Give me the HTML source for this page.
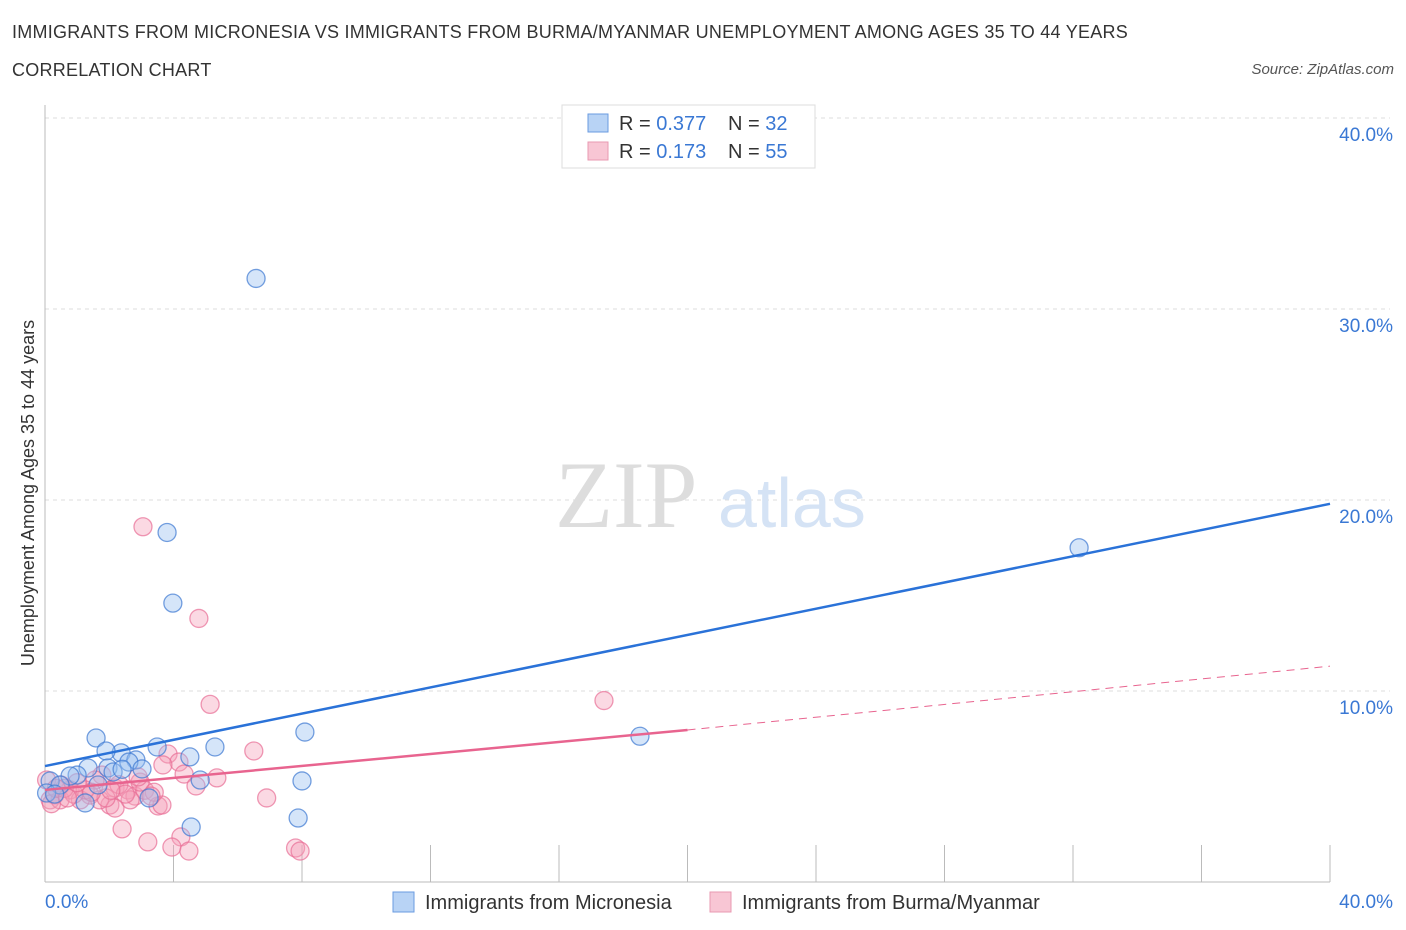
<!DOCTYPE html>
<html><head><meta charset="utf-8"><style>
body{margin:0;background:#fff;font-family:"Liberation Sans",sans-serif;}
#wrap{position:relative;width:1406px;height:930px;overflow:hidden;}
.t{position:absolute;color:#333;font-size:18px;letter-spacing:0.25px;}
</style></head><body>
<div id="wrap">
<div class="t" style="left:12px;top:22px;">IMMIGRANTS FROM MICRONESIA VS IMMIGRANTS FROM BURMA/MYANMAR UNEMPLOYMENT AMONG AGES 35 TO 44 YEARS</div>
<div class="t" style="left:12px;top:60px;">CORRELATION CHART</div>
<div class="t" style="right:12px;top:61px;font-size:15px;letter-spacing:0;font-style:italic;color:#555;">Source: ZipAtlas.com</div>
<svg id="svg" width="1406" height="930" style="position:absolute;left:0;top:0"></svg>
</div>
<script>
const blueX=[6.57,3.80,3.98,32.19,18.52,8.09,1.59,5.29,3.49,2.37,1.90,4.51,2.83,2.61,3.02,1.96,1.34,2.12,1.00,0.78,0.16,0.47,0.05,1.65,3.24,1.25,4.83,8.00,7.88,4.55,0.3,2.4];
const blueY=[31.6,18.3,14.6,17.5,7.63,7.85,7.54,7.07,7.07,6.76,6.86,6.55,6.39,6.28,5.92,5.97,5.97,5.76,5.60,5.55,5.29,5.08,4.66,5.08,4.40,4.14,5.34,5.29,3.35,2.88,4.6,5.9];
const pinkX=[3.05,4.79,5.14,17.4,6.5,3.83,4.17,3.67,4.33,5.35,4.70,6.9,2.4,3.2,4.23,3.95,4.48,7.8,7.94,1.77,2.18,2.58,2.8,3.52,3.64,2.02,2.18,1.4,0.78,0.3,0.16,0.5,1.1,1.56,3.1,2.65,2.96,0.05,1.7,0.47,1.25,0.9,2.3,3.4,0.6,1.9,2.9,0.2,1.45,2.5,3.3,0.35,1.0,2.05,0.7];
const pinkY=[18.6,13.8,9.3,9.5,6.86,6.7,6.28,6.13,5.65,5.45,5.03,4.4,2.78,2.1,2.36,1.83,1.62,1.78,1.62,5.6,4.92,4.82,4.5,3.98,4.03,4.03,3.87,4.55,4.82,4.55,4.3,5.08,4.3,5.34,4.8,4.3,5.23,5.34,4.3,4.3,4.82,4.6,5.1,4.7,4.9,4.4,5.5,4.1,4.7,4.6,4.5,4.9,5.2,4.8,4.4];
const yTicks=[10,20,30,40];
const yTickLabels=["10.0%","20.0%","30.0%","40.0%"];
const blueLine=[6.07,19.8], pinkLine=[4.82,7.96,11.3];
const X=v=>45+v/40*1285, Y=v=>882-v/10*191;
const s=document.getElementById('svg');const NS="http://www.w3.org/2000/svg";
function mk(t,a,n){const e=document.createElementNS(NS,t);for(const k in a)e.setAttribute(k,a[k]);s.appendChild(e);return e;}
yTicks.forEach((v,i)=>{
 const g=mk('line',{x1:45,x2:1390,y1:Y(v),y2:Y(v),stroke:'#ddd','stroke-dasharray':'4,4'},'gridline');
 const t=mk('text',{x:1393,y:Y(v)+23,'text-anchor':'end','font-size':19,fill:'#3a78d4'},'y-tick-label');t.textContent=yTickLabels[i];
});
mk('line',{x1:45,x2:45,y1:105,y2:882,stroke:'#bbb'},'y-axis');
mk('line',{x1:45,x2:1330,y1:882,y2:882,stroke:'#bbb'},'x-axis');
for(let i=0;i<=10;i++){mk('line',{x1:X(i*4),x2:X(i*4),y1:845,y2:882,stroke:'#bbb'},'x-tick');}
let w=mk('text',{x:555,y:527,'font-size':95,fill:'#ddd','font-family':'Liberation Serif'},'watermark-zip');w.textContent='ZIP';
w=mk('text',{x:718,y:527,'font-size':70,fill:'#d5e3f5'},'watermark-atlas');w.textContent='atlas';
pinkX.forEach((x,i)=>{mk('circle',{cx:X(x),cy:Y(pinkY[i]),r:9,fill:'rgba(246,160,185,0.4)',stroke:'rgba(232,110,150,0.7)','stroke-width':1.3},'pink-point');});
blueX.forEach((x,i)=>{mk('circle',{cx:X(x),cy:Y(blueY[i]),r:9,fill:'rgba(150,190,240,0.4)',stroke:'rgba(60,120,210,0.7)','stroke-width':1.3},'blue-point');});
mk('line',{x1:X(0),y1:Y(blueLine[0]),x2:X(40),y2:Y(blueLine[1]),stroke:'#2a72d8','stroke-width':2.5},'blue-trend-line');
mk('line',{x1:X(0),y1:Y(pinkLine[0]),x2:X(20),y2:Y(pinkLine[1]),stroke:'#e8648f','stroke-width':2.5},'pink-trend-line');
mk('line',{x1:X(20),y1:Y(pinkLine[1]),x2:X(40),y2:Y(pinkLine[2]),stroke:'#e8648f','stroke-width':1,'stroke-dasharray':'8,6'},'pink-trend-extension');
let t=mk('text',{x:45,y:908,'font-size':19,fill:'#3a78d4'},'x-min-label');t.textContent='0.0%';
t=mk('text',{x:1393,y:908,'text-anchor':'end','font-size':19,fill:'#3a78d4'},'x-max-label');t.textContent='40.0%';
t=mk('text',{x:34,y:493,'font-size':18,fill:'#333','text-anchor':'middle',transform:'rotate(-90 34 493)'},'y-axis-title');t.textContent='Unemployment Among Ages 35 to 44 years';
mk('rect',{x:562,y:105,width:253,height:63,fill:'#fff',stroke:'#ddd'},'legend-box');
[[123,'#b8d3f5','#6a9be0','0.377','32'],[151,'#f8c6d4','#e899b2','0.173','55']].forEach((r,i)=>{
 mk('rect',{x:588,y:r[0]-9,width:20,height:18,fill:r[1],stroke:r[2]},'legend-swatch');
 let a=mk('text',{x:619,y:r[0]+7,'font-size':20,fill:'#333'},'legend-r');a.innerHTML='R = <tspan fill="#3a78d4">'+(i?' ':'')+r[3]+'</tspan>';
 a=mk('text',{x:728,y:r[0]+7,'font-size':20,fill:'#333'},'legend-n');a.innerHTML='N = <tspan fill="#3a78d4">'+r[4]+'</tspan>';
});
[[393,'#b8d3f5','#6a9be0','Immigrants from Micronesia'],[710,'#f8c6d4','#e899b2','Immigrants from Burma/Myanmar']].forEach(r=>{
 mk('rect',{x:r[0],y:892,width:21,height:20,fill:r[1],stroke:r[2]},'bottom-legend-swatch');
 const a=mk('text',{x:r[0]+32,y:909,'font-size':20,fill:'#333'},'bottom-legend-label');a.textContent=r[3];
});
</script></body></html>
